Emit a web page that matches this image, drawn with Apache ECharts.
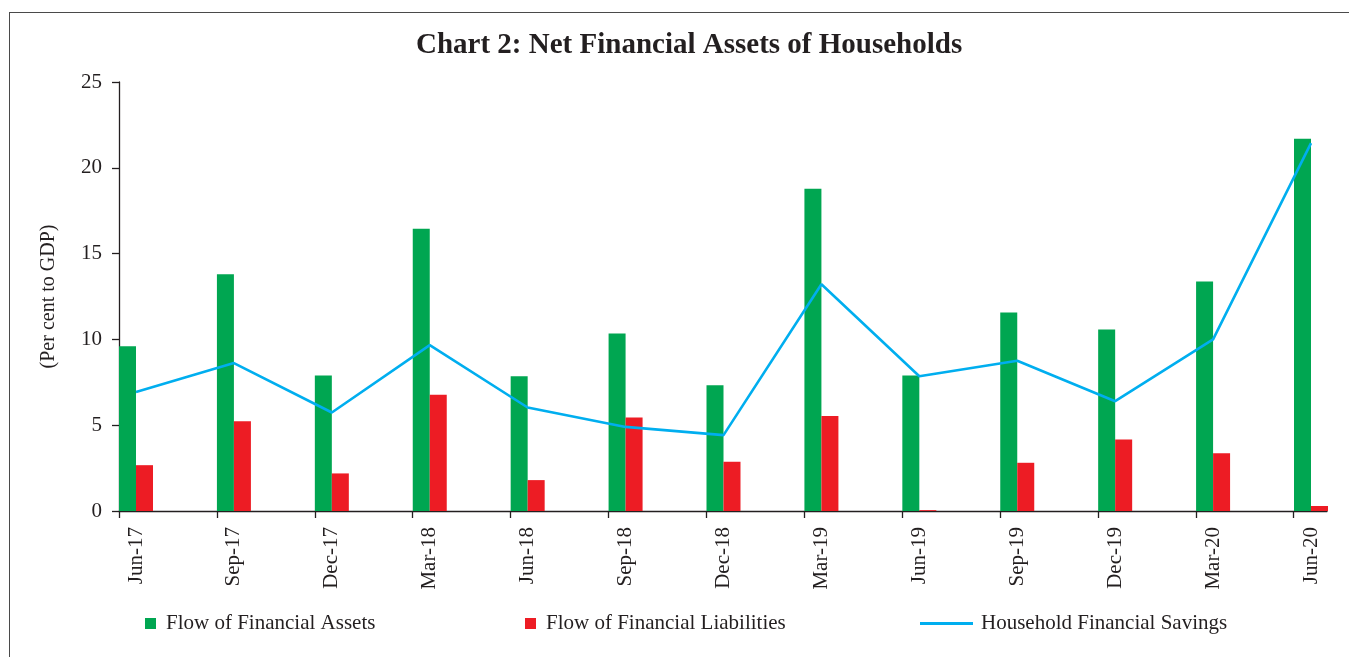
<!DOCTYPE html>
<html>
<head>
<meta charset="utf-8">
<script src="https://cdn.jsdelivr.net/npm/echarts@6/dist/echarts.min.js"></script>
<style>
    html, body { margin: 0; padding: 0; background: #fff; }
    #wrap { position: relative; width: 1349px; height: 657px; }
    #chart { position: absolute; left: 0; top: 0; width: 1349px; height: 657px; }
    #frame {
        position: absolute; left: 9px; top: 12px; right: 0; bottom: 0;
        border-top: 1.5px solid #4a4a4a; border-left: 1.5px solid #4a4a4a;
        pointer-events: none;
    }
</style>
</head>
<body>
<div id="wrap">
    <div id="chart"></div>
    <div id="frame"></div>
</div>
<script>
// quarters on the x axis
let quarters = ['Jun-17', 'Sep-17', 'Dec-17', 'Mar-18', 'Jun-18', 'Sep-18', 'Dec-18',
    'Mar-19', 'Jun-19', 'Sep-19', 'Dec-19', 'Mar-20', 'Jun-20']

// per cent to GDP
let assets = [9.6, 13.8, 7.9, 16.45, 7.85, 10.35, 7.33, 18.78, 7.9, 11.57, 10.58, 13.37, 21.7]
let liabilities = [2.67, 5.23, 2.19, 6.78, 1.8, 5.45, 2.87, 5.54, 0.05, 2.81, 4.17, 3.37, 0.29]
let savings = [6.94, 8.62, 5.74, 9.67, 6.03, 4.9, 4.42, 13.21, 7.85, 8.76, 6.4, 10.0, 21.44]

let yTicks = {min: 0, max: 25, interval: 5}

let font = 'Liberation Serif'
let ink = '#231f20'

window.onload = function () {
    let chart = echarts.init(document.querySelector('#chart'))
    let legendText = {fontFamily: font, fontSize: 21, color: ink, padding: [0, 0, 0, 5]}
    let option = {
        animation: false,
        textStyle: {fontFamily: font, color: ink},
        title: {
            text: 'Chart 2: Net Financial Assets of Households',
            left: 411,
            top: 26,
            textStyle: {fontFamily: font, fontSize: 29, fontWeight: 'bold', color: ink}
        },
        legend: [
            {
                data: [{name: 'Flow of Financial Assets', icon: 'rect'}],
                left: 145, top: 613, padding: 0,
                itemWidth: 11, itemHeight: 11,
                textStyle: legendText
            },
            {
                data: [{name: 'Flow of Financial Liabilities', icon: 'rect'}],
                left: 525, top: 613, padding: 0,
                itemWidth: 11, itemHeight: 11,
                textStyle: legendText
            },
            {
                data: [{name: 'Household Financial Savings', icon: 'rect'}],
                left: 920, top: 613, padding: 0,
                itemWidth: 53, itemHeight: 3,
                textStyle: {fontFamily: font, fontSize: 21, color: ink, padding: [0, 0, 0, 3]}
            }
        ],
        grid: [
            // data grid: category points sit at the centre of each bar pair
            {left: 136, right: 38, top: 82, bottom: 146},
            // axis grid: line and ticks run from the y axis to the last pair
            {left: 119, right: 22, top: 82, bottom: 146}
        ],
        xAxis: [
            {
                type: 'category',
                gridIndex: 0,
                data: quarters,
                boundaryGap: false,
                axisLine: {show: false},
                axisTick: {show: false},
                axisLabel: {
                    rotate: 90,
                    margin: 16,
                    fontFamily: font,
                    fontSize: 21,
                    color: ink
                }
            },
            {
                type: 'value',
                gridIndex: 1,
                min: 0,
                max: 12.34,
                interval: 1,
                axisLine: {show: true, lineStyle: {color: '#231f20', width: 1.3}},
                axisTick: {
                    show: true, length: 7, inside: false,
                    customValues: quarters.map((q, i) => i),
                    lineStyle: {color: '#231f20', width: 1.3}
                },
                axisLabel: {show: false},
                splitLine: {show: false}
            }
        ],
        yAxis: [
            {
                type: 'value',
                gridIndex: 0,
                min: yTicks.min, max: yTicks.max, interval: yTicks.interval,
                show: false
            },
            {
                type: 'value',
                gridIndex: 1,
                min: yTicks.min, max: yTicks.max, interval: yTicks.interval,
                name: '(Per cent to GDP)',
                nameLocation: 'middle',
                nameRotate: 90,
                nameGap: 60,
                nameTextStyle: {fontFamily: font, fontSize: 20, color: ink},
                axisLine: {show: true, lineStyle: {color: '#231f20', width: 1.3}},
                axisTick: {show: true, length: 7, lineStyle: {color: '#231f20', width: 1.3}},
                axisLabel: {margin: 17, fontFamily: font, fontSize: 21, color: ink},
                splitLine: {show: false}
            }
        ],
        series: [
            {
                name: 'Flow of Financial Assets',
                type: 'bar',
                xAxisIndex: 0, yAxisIndex: 0,
                data: assets,
                barWidth: 17,
                barGap: '0%',
                clip: false,
                itemStyle: {color: '#00a651'}
            },
            {
                name: 'Flow of Financial Liabilities',
                type: 'bar',
                xAxisIndex: 0, yAxisIndex: 0,
                data: liabilities,
                barWidth: 17,
                barGap: '0%',
                clip: false,
                itemStyle: {color: '#ed1c24'}
            },
            {
                name: 'Household Financial Savings',
                type: 'line',
                xAxisIndex: 0, yAxisIndex: 0,
                data: savings,
                symbol: 'none',
                clip: false,
                lineStyle: {color: '#00aeef', width: 2.6},
                itemStyle: {color: '#00aeef'}
            }
        ]
    }
    chart.setOption(option)
}
</script>
</body>
</html>
